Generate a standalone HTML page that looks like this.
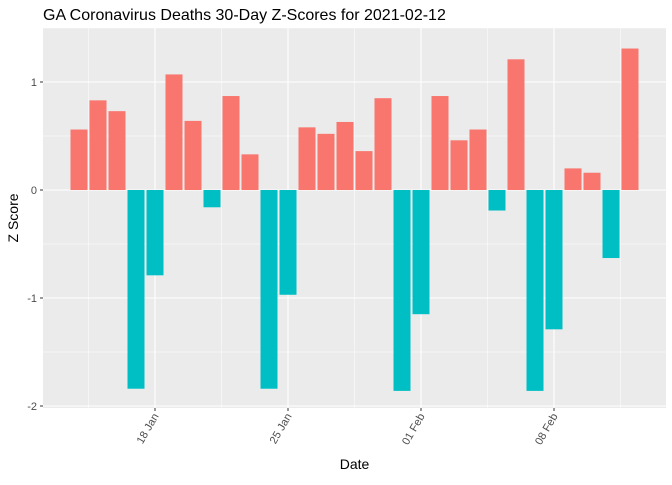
<!DOCTYPE html>
<html><head><meta charset="utf-8"><style>
body{margin:0;background:#fff;font-family:"Liberation Sans",sans-serif}
</style></head><body>
<svg id="c" width="672" height="480" xmlns="http://www.w3.org/2000/svg"></svg>
<script>
const dates=["Jan14","Jan15","Jan16","Jan17","Jan18","Jan19","Jan20","Jan21","Jan22","Jan23","Jan24","Jan25","Jan26","Jan27","Jan28","Jan29","Jan30","Jan31","Feb01","Feb02","Feb03","Feb04","Feb05","Feb06","Feb07","Feb08","Feb09","Feb10","Feb11","Feb12"];
const zscores=[0.56,0.83,0.73,-1.84,-0.79,1.07,0.64,-0.16,0.87,0.33,-1.84,-0.97,0.58,0.52,0.63,0.36,0.85,-1.86,-1.15,0.87,0.46,0.56,-0.19,1.21,-1.86,-1.29,0.20,0.16,-0.63,1.31];
const yTicks=[-2,-1,0,1];
const xTickIdx=[4,11,18,25];
const xTickLabels=["18 Jan","25 Jan","01 Feb","08 Feb"];
const svg=document.getElementById('c');const NS="http://www.w3.org/2000/svg";
const L=43,R=666,T=28,B=408;
const x=i=>79+i*19;
const y=v=>190-v*108;
function mk(t,a,p){const e=document.createElementNS(NS,t);for(const k in a)e.setAttribute(k,a[k]);(p||svg).appendChild(e);return e;}
const panel=mk('rect',{x:L,y:T,width:R-L,height:B-T,fill:'#EBEBEB'});


for(let v=-2;v<=1.5;v+=0.5){const minor=!yTicks.includes(v);const g=mk('line',{x1:L,x2:R,y1:y(v),y2:y(v),stroke:'#fff','stroke-width':minor?0.5:1.1});

}
for(let k=0.5;k<=29;k+=3.5){const xi=x(k);const g=mk('line',{x1:xi,x2:xi,y1:T,y2:B,stroke:'#fff','stroke-width':(k-4)%7===0?1.1:0.5});

}
zscores.forEach((v,i)=>{const r=mk('rect',{x:x(i)-8.5,y:Math.min(y(v),y(0)),width:17,height:Math.abs(y(v)-y(0)),fill:v>=0?'#F8766D':'#00BFC4'});

});
yTicks.forEach(v=>{mk('line',{x1:L-3,x2:L,y1:y(v),y2:y(v),stroke:'#333'});const t=mk('text',{x:L-6,y:y(v)+4,'text-anchor':'end','font-size':11,fill:'#4d4d4d'});t.textContent=v;

});
xTickIdx.forEach((k,j)=>{const xi=x(k);mk('line',{x1:xi,x2:xi,y1:B,y2:B+3,stroke:'#333'});const t=mk('text',{x:xi+4,y:B+8,'text-anchor':'end','font-size':11,fill:'#4d4d4d',transform:`rotate(-60 ${xi+4} ${B+8})`});t.textContent=xTickLabels[j];

});
const tt=mk('text',{x:43,y:20,'font-size':16,fill:'#000'});tt.textContent="GA Coronavirus Deaths 30-Day Z-Scores for 2021-02-12";


const xt=mk('text',{x:(L+R)/2,y:469,'text-anchor':'middle','font-size':14});xt.textContent="Date";


const yt=mk('text',{x:18,y:218,'text-anchor':'middle','font-size':14,transform:'rotate(-90 18 218)'});yt.textContent="Z Score";


</script></body></html>
